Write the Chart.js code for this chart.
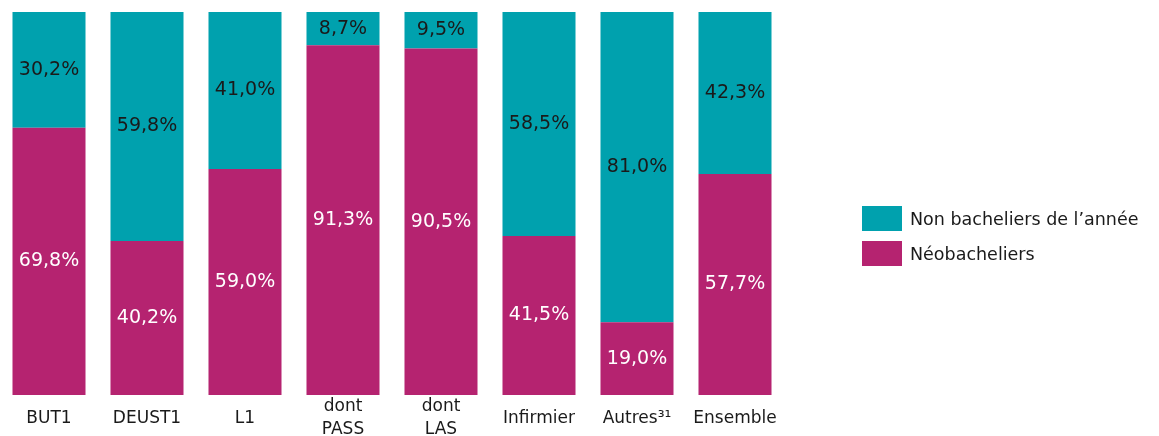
<!DOCTYPE html>
<html lang="fr">
  <head>
    <meta charset="UTF-8" />
    <title>Néobacheliers</title>
    <script src="https://cdn.jsdelivr.net/npm/chart.js"></script>
    <style>
      body { margin: 0; background: #fff; font-family: "DejaVu Sans", Verdana, sans-serif; }
      .wrap { position: relative; width: 1159px; height: 436px; }
      .legend { position: absolute; left: 862px; top: 206px; font-size: 17.5px; color: #1a1a1a; }
      .legend div { display: flex; align-items: center; height: 25px; margin-bottom: 10px; }
      .legend span { display: inline-block; width: 40px; height: 25px; margin-right: 8px; }
    </style>
  </head>
  <body>
    <div class="wrap">
      <canvas id="chart" width="1159" height="436"></canvas>
      <div class="legend">
        <div><span style="background:#00A1AE"></span>Non bacheliers de l’année</div>
        <div><span style="background:#B52370"></span>Néobacheliers</div>
      </div>
    </div>
    <script>
      const categories = ["BUT1", "DEUST1", "L1", ["dont", "PASS"], ["dont", "LAS"], "Infirmier", "Autres³¹", "Ensemble"];
      const neo = [69.8, 40.2, 59.0, 91.3, 90.5, 41.5, 19.0, 57.7];
      const nonBac = [30.2, 59.8, 41.0, 8.7, 9.5, 58.5, 81.0, 42.3];

      const labelPlugin = {
        id: "segLabels",
        afterDatasetsDraw(chart) {
          const ctx = chart.ctx;
          ctx.save();
          ctx.font = "19px 'DejaVu Sans'";
          ctx.textAlign = "center";
          ctx.textBaseline = "middle";
          chart.data.datasets.forEach((ds, i) => {
            chart.getDatasetMeta(i).data.forEach((bar, j) => {
              const mid = (bar.y + bar.base) / 2;
              ctx.fillStyle = i === 0 ? "#ffffff" : "#1a1a1a";
              ctx.fillText(ds.data[j].toFixed(1).replace(".", ",") + "%", bar.x, mid);
            });
          });
          ctx.restore();
        },
      };

      new Chart(document.getElementById("chart"), {
        type: "bar",
        data: {
          labels: categories,
          datasets: [
            { label: "Néobacheliers", data: neo, backgroundColor: "#B52370" },
            { label: "Non bacheliers de l’année", data: nonBac, backgroundColor: "#00A1AE" },
          ],
        },
        options: {
          responsive: false,
          animation: false,
          layout: { padding: { top: 12, right: 375, left: 0, bottom: 0 } },
          datasets: { bar: { categoryPercentage: 1, barPercentage: 0.745 } },
          plugins: { legend: { display: false }, tooltip: { enabled: false } },
          scales: {
            x: {
              stacked: true,
              grid: { display: false },
              border: { display: false },
              afterFit(scale) { scale.height = 41; },
              ticks: {
                color: "#1a1a1a",
                font: { family: "DejaVu Sans", size: 17, lineHeight: "23px" },
                maxRotation: 0,
                padding: 4,
                crossAlign: "center",
              },
            },
            y: { stacked: true, min: 0, max: 100, display: false },
          },
        },
        plugins: [labelPlugin],
      });
    </script>
  </body>
</html>
